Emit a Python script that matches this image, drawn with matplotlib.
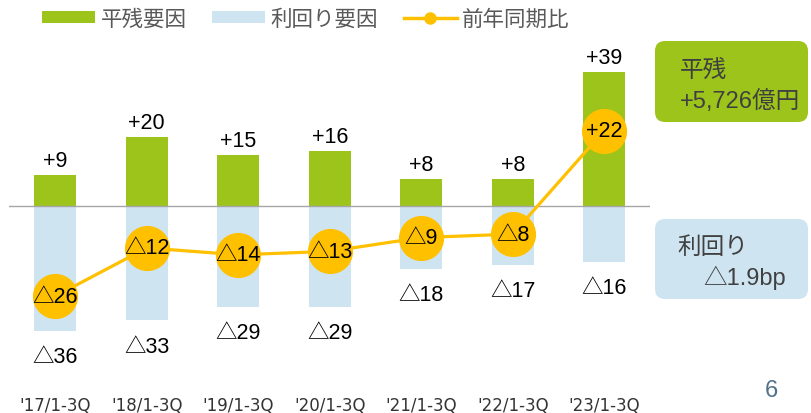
import matplotlib
matplotlib.use("Agg")
import matplotlib.pyplot as plt
from matplotlib.patches import FancyBboxPatch, Patch
from matplotlib.lines import Line2D
from matplotlib.transforms import IdentityTransform

plt.rcParams['font.family'] = ['Liberation Sans', 'Noto Sans CJK JP', 'DejaVu Sans']

# ---- data ----
categories = ["'17/1-3Q", "'18/1-3Q", "'19/1-3Q", "'20/1-3Q", "'21/1-3Q", "'22/1-3Q", "'23/1-3Q"]
balance_factor = [9, 20, 15, 16, 8, 8, 39]          # 平残要因
yield_factor = [-36, -33, -29, -29, -18, -17, -16]  # 利回り要因
yoy_change = [-26, -12, -14, -13, -9, -8, 22]       # 前年同期比
series_names = ["平残要因", "利回り要因", "前年同期比"]

GREEN = "#9DC41A"
LBLUE = "#CFE4F1"
ORANGE = "#FFC000"


def fmt(v):
    return f"+{v}" if v > 0 else f"△{abs(v)}"


fig = plt.figure(figsize=(8.12, 4.14), dpi=100)
ax = fig.add_axes([9.5 / 812, 1 - 380 / 414, 640.5 / 812, 340 / 414])
x = list(range(len(categories)))

ax.bar(x, yield_factor, width=0.46, color=LBLUE, zorder=1)
ax.bar(x, balance_factor, width=0.46, color=GREEN, zorder=1)
ax.axhline(0, color="#A6A6A6", linewidth=1.0, zorder=2)
ax.plot(x, yoy_change, color=ORANGE, linewidth=2.3, marker="o", markersize=31.5,
        markerfacecolor=ORANGE, markeredgecolor=ORANGE, zorder=3)

LABEL_FS = 15.5
for xi, v in zip(x, balance_factor):
    ax.annotate(fmt(v), (xi, v), xytext=(0, 10.5), textcoords="offset points",
                ha="center", va="center", fontsize=LABEL_FS, color="black")
for xi, v in zip(x, yield_factor):
    ax.annotate(fmt(v), (xi, v), xytext=(0, -18.5), textcoords="offset points",
                ha="center", va="center", fontsize=LABEL_FS, color="black")
for xi, v in zip(x, yoy_change):
    ax.text(xi, v, fmt(v), ha="center", va="center", fontsize=LABEL_FS, color="black", zorder=4)

ax.set_xlim(-0.5, 6.5)
ax.set_ylim(-50, 48.55)
ax.set_xticks(x)
ax.set_xticklabels(categories, fontsize=12, color="#333333", family=["DejaVu Sans"])
ax.tick_params(axis="x", length=0, pad=12.5)
ax.set_yticks([])
for s in ax.spines.values():
    s.set_visible(False)

# legend
handles = [
    Patch(facecolor=GREEN, edgecolor="none"),
    Patch(facecolor=LBLUE, edgecolor="none"),
    Line2D([0], [0], color=ORANGE, linewidth=2.5, marker="o", markersize=8),
]
fig.legend(handles, series_names, loc="center", bbox_to_anchor=(306 / 812, 1 - 20 / 414),
           ncol=3, frameon=False, fontsize=15.5, labelcolor="#595959",
           handlelength=2.45, handleheight=0.52, handletextpad=0.25, columnspacing=1.2,
           borderaxespad=0, borderpad=0)

# side boxes
tr = IdentityTransform()
fig.patches.append(FancyBboxPatch((655, 291), 153, 81,
                                  boxstyle="round,pad=0,rounding_size=10",
                                  facecolor=GREEN, edgecolor="none", transform=tr, figure=fig))
fig.patches.append(FancyBboxPatch((655, 114), 153, 80,
                                  boxstyle="round,pad=0,rounding_size=10",
                                  facecolor=LBLUE, edgecolor="none", transform=tr, figure=fig))
BOX_FS = 17
fig.text(680 / 812, 342 / 414, "平残", fontsize=BOX_FS, color="#404040", ha="left", va="center")
fig.text(680 / 812, 312 / 414, "+5,726億円", fontsize=BOX_FS, color="#404040", ha="left", va="center")
fig.text(677 / 812, 166 / 414, "利回り", fontsize=BOX_FS, color="#404040", ha="left", va="center")
fig.text(703 / 812, 136 / 414, "△1.9bp", fontsize=BOX_FS, color="#404040", ha="left", va="center")

# page number
fig.text(771 / 812, 1 - 391 / 414, "6", fontsize=17, color="#4F7189", ha="center", va="center")

fig.savefig("out.png", dpi=100)
